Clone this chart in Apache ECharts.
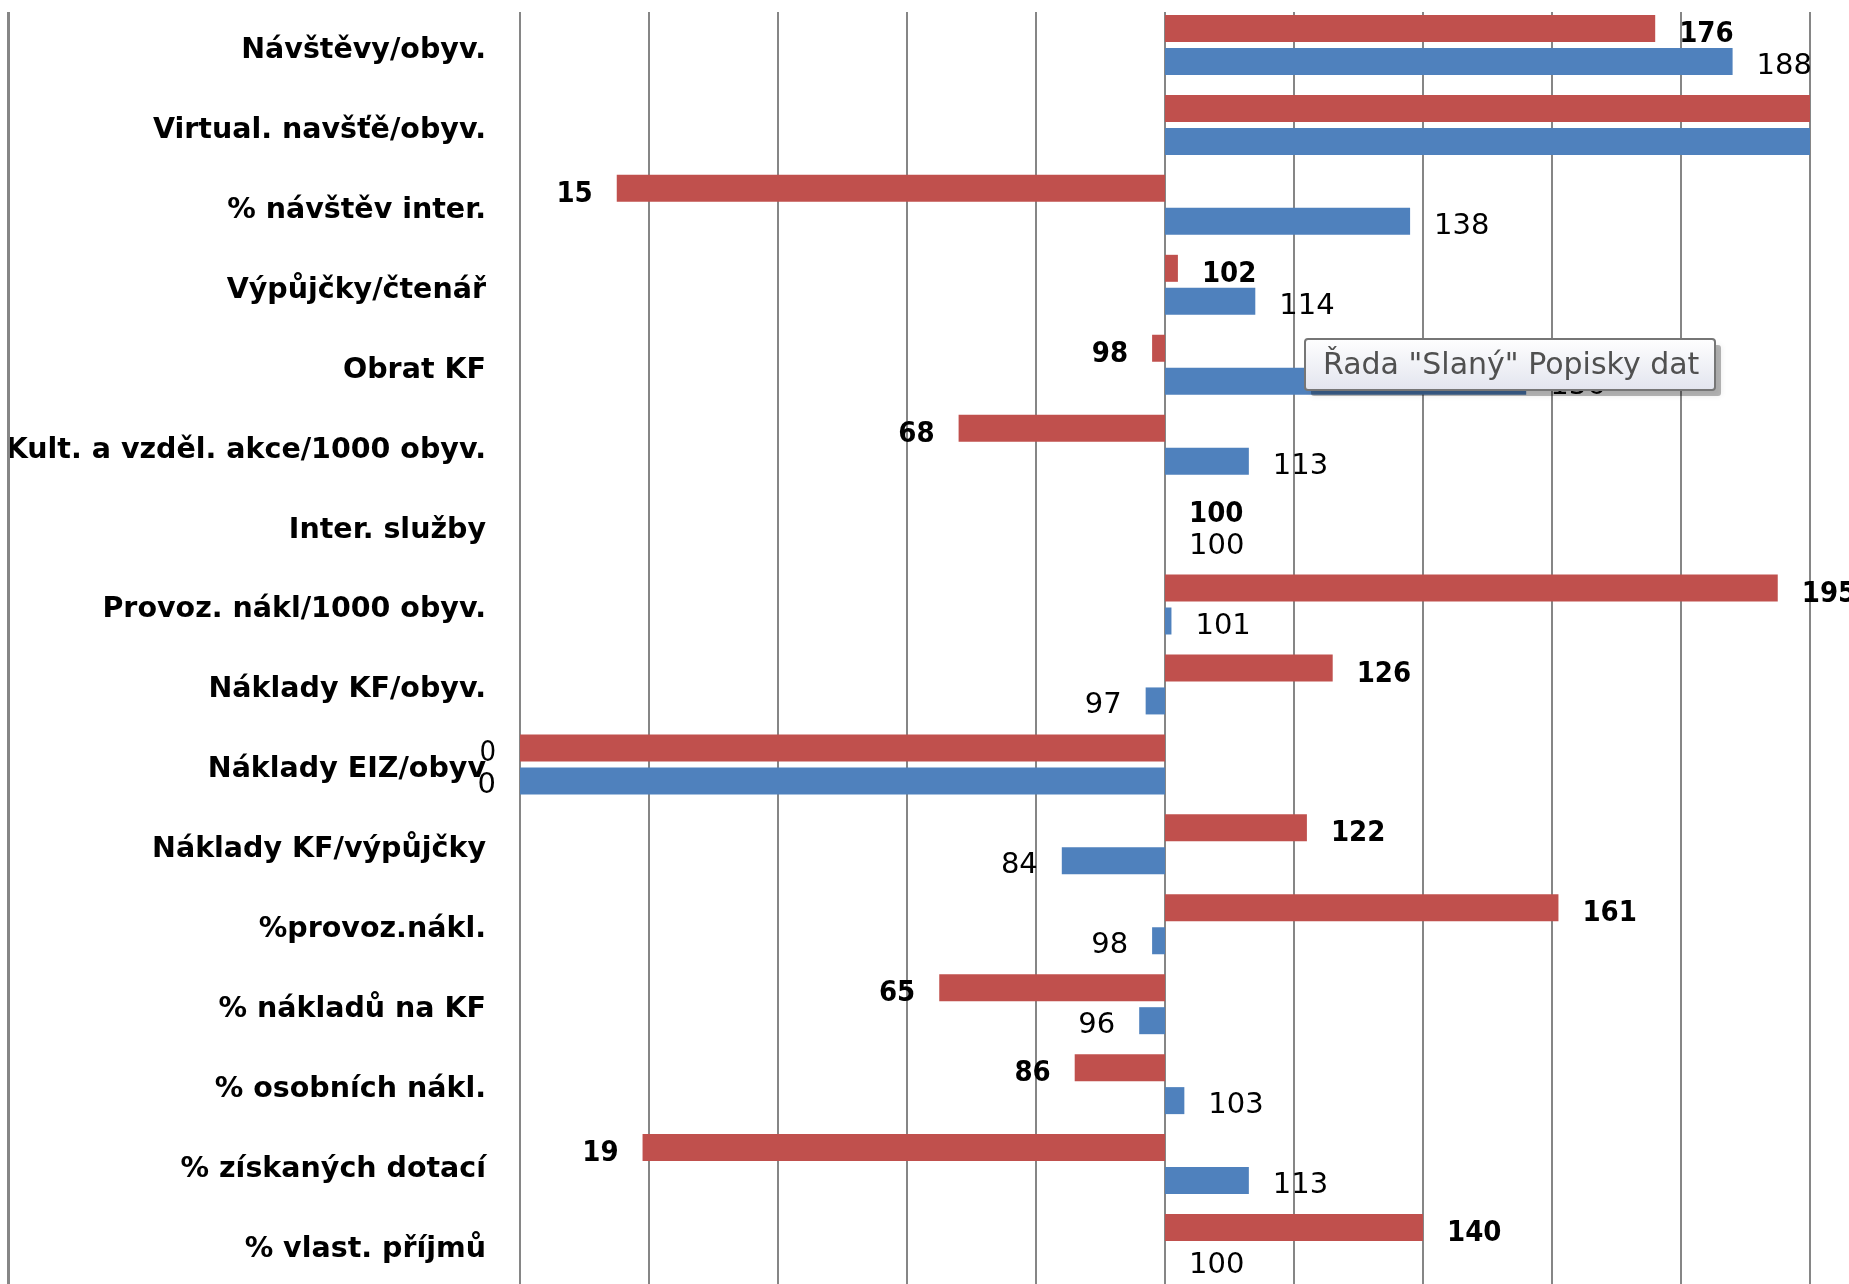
<!DOCTYPE html>
<html>
<head>
<meta charset="utf-8">
<script src="https://cdn.jsdelivr.net/npm/echarts@6/dist/echarts.min.js"></script>
<style>
html,body{margin:0;padding:0;background:#fff;}
#c{width:1849px;height:1284px;}
</style>
</head>
<body>
<div id="c"></div>
<script>
// ---- data ----
const categories = [
  'Návštěvy/obyv.',
  'Virtual. navšťě/obyv.',
  '% návštěv inter.',
  'Výpůjčky/čtenář',
  'Obrat KF',
  'Kult. a vzděl. akce/1000 obyv.',
  'Inter. služby',
  'Provoz. nákl/1000 obyv.',
  'Náklady KF/obyv.',
  'Náklady EIZ/obyv',
  'Náklady KF/výpůjčky',
  '%provoz.nákl.',
  '% nákladů na KF',
  '% osobních nákl.',
  '% získaných dotací',
  '% vlast. příjmů'
];
// red series (top bar of each pair)
const redValues  = [176, 215, 15, 102, 98, 68, 100, 195, 126, 0, 122, 161, 65, 86, 19, 140];
// blue series "Slaný" (bottom bar of each pair)
const blueValues = [188, 210, 138, 114, 156, 113, 100, 101, 97, 0, 84, 98, 96, 103, 113, 100];
const baseValue = 100;      // bars grow from 100
const axisMin = 0, axisMax = 200, axisStep = 20;
const tooltipText = 'Řada "Slaný" Popisky dat';

// ---- chart ----
const chart = echarts.init(document.getElementById('c'), null, {renderer: 'canvas'});

function buildData(vals, boldLabels) {
  return vals.map(v => ({
    value: v - baseValue,
    label: {
      position: v >= baseValue ? 'right' : 'left',
      fontWeight: (boldLabels && v !== 0) ? 'bold' : 'normal'
    }
  }));
}
function fmt(vals) {
  return p => {
    const v = vals[p.dataIndex];
    return v > axisMax ? '' : String(v);
  };
}

const option = {
  animation: false,
  backgroundColor: '#ffffff',
  grid: { left: 520, width: 1290, top: 5, height: 1280, containLabel: false },
  xAxis: {
    type: 'value',
    min: axisMin - baseValue,
    max: axisMax - baseValue,
    interval: axisStep,
    axisLine: { show: false },
    axisTick: { show: false },
    axisLabel: { show: false },
    splitLine: { show: true, lineStyle: { color: '#868686', width: 2 } }
  },
  yAxis: {
    type: 'category',
    data: categories,
    inverse: true,
    axisLine: { show: false, onZero: false },
    axisTick: { show: false },
    axisLabel: {
      margin: 34,
      formatter: v => '{t|' + v + '}',
      rich: {
        t: {
          fontSize: 28.5,
          fontWeight: 'bold',
          color: '#000',
          padding: [11, 0, 0, 0],
          fontFamily: '"DejaVu Sans", sans-serif'
        }
      }
    }
  },
  series: [
    {
      name: 'Srovnání',
      type: 'bar',
      data: buildData(redValues, true),
      barWidth: 27,
      barGap: '22%',
      clip: true,
      itemStyle: { color: '#C0504D' },
      label: {
        show: true,
        distance: 24,
        offset: [0, 6],
        formatter: fmt(redValues),
        fontSize: 29,
        color: '#000',
        fontFamily: '"DejaVu Sans Condensed", "DejaVu Sans", sans-serif'
      }
    },
    {
      name: 'Slaný',
      type: 'bar',
      data: buildData(blueValues, false),
      barWidth: 27,
      barGap: '22%',
      clip: true,
      itemStyle: { color: '#4F81BD' },
      label: {
        show: true,
        distance: 24,
        offset: [0, 5],
        formatter: fmt(blueValues),
        fontSize: 29,
        color: '#000',
        fontFamily: '"DejaVu Sans", sans-serif'
      }
    }
  ],
  graphic: [
    { type: 'rect', z: 50, shape: { x: 0, y: 0, width: 1849, height: 12 }, style: { fill: '#ffffff' } },
    { type: 'line', z: 60, shape: { x1: 8.5, y1: 12, x2: 8.5, y2: 1284 }, style: { stroke: '#868686', lineWidth: 3 } },
    { type: 'rect', z: 100, x: 1305, y: 339, shape: { x: 6, y: 6, width: 410, height: 51, r: 3 },
      style: { fill: 'rgba(0,0,0,0.28)', shadowBlur: 6, shadowColor: 'rgba(0,0,0,0.3)' } },
    { type: 'rect', z: 101, x: 1305, y: 339, shape: { x: 0, y: 0, width: 410, height: 51, r: 3 },
      style: {
        fill: new echarts.graphic.LinearGradient(0, 0, 0, 1, [
          { offset: 0, color: '#ffffff' }, { offset: 1, color: '#e2e4ee' }
        ]),
        stroke: '#767676', lineWidth: 2
      } },
    { type: 'text', z: 102, x: 1323, y: 366,
      style: { text: tooltipText, fill: '#505050', fontSize: 30,
               fontFamily: '"DejaVu Sans", sans-serif',
               verticalAlign: 'middle', align: 'left' } }
  ]
};
chart.setOption(option);
</script>
</body>
</html>
